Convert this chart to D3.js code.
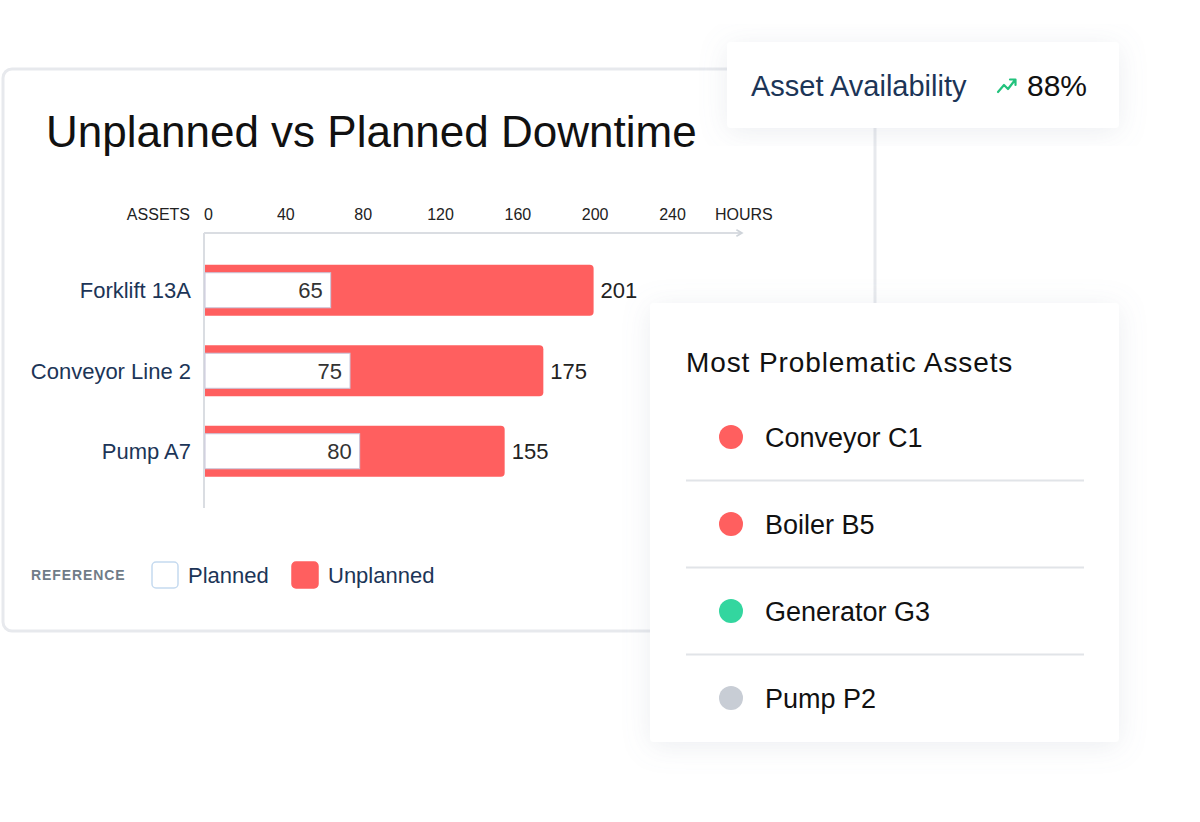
<!DOCTYPE html>
<html lang="en">
<head>
<title>Unplanned vs Planned Downtime</title>
<meta charset="utf-8">
<script src="https://cdnjs.cloudflare.com/ajax/libs/d3/7.8.5/d3.min.js"></script>
<style>
body { margin: 0; background: #fff; }
svg { display: block; font-family: "Liberation Sans", Arial, sans-serif; }
</style>
</head>
<body>
<div id="chart"></div>
<script>

// chart values
var assets = ["Forklift 13A", "Conveyor Line 2", "Pump A7"]
var planned = [65, 75, 80]
var unplanned = [201, 175, 155]
var hourTicks = [0, 40, 80, 120, 160, 200, 240]

var availability = 88

var problemAssets = ["Conveyor C1", "Boiler B5", "Generator G3", "Pump P2"]
var problemStatus = ["bad", "bad", "good", "idle"]

var statusColor = { bad: "#ff5f5f", good: "#33d69f", idle: "#c8cdd5" }
var navy = "#1c3557"
var red = "#ff5f5f"

var rows = assets.map(function(a, i) {
    return { asset: a, planned: planned[i], unplanned: unplanned[i] }
})

var svg = d3.select("#chart").append("svg")
    .attr("width", 1200)
    .attr("height", 822)

var defs = svg.append("defs")
var shadow = defs.append("filter")
    .attr("id", "shadow")
    .attr("x", "-20%").attr("y", "-20%")
    .attr("width", "140%").attr("height", "140%")
shadow.append("feDropShadow")
    .attr("dx", 0).attr("dy", 4)
    .attr("stdDeviation", 14)
    .attr("flood-color", "#8a94a6")
    .attr("flood-opacity", 0.16)

defs.append("marker")
    .attr("id", "arrow")
    .attr("viewBox", "0 0 10 10")
    .attr("refX", 8).attr("refY", 5)
    .attr("markerWidth", 4).attr("markerHeight", 4)
    .attr("orient", "auto")
  .append("path")
    .attr("d", "M1,1 L8,5 L1,9")
    .attr("fill", "none")
    .attr("stroke", "#cfd4da")
    .attr("stroke-width", 2)

// main card
svg.append("rect")
    .attr("x", 3).attr("y", 69)
    .attr("width", 872).attr("height", 562)
    .attr("rx", 9)
    .attr("fill", "#fff")
    .attr("stroke", "#e7e9ed")
    .attr("stroke-width", 3)

svg.append("text")
    .attr("x", 46).attr("y", 147)
    .attr("font-size", 44)
    .attr("fill", "#111")
    .text("Unplanned vs Planned Downtime")

// scales
var x = d3.scaleLinear().domain([0, 240]).range([205, 669])
var y = d3.scaleBand()
    .domain(assets)
    .range([250, 491.5])
    .paddingInner(0.366)
    .paddingOuter(0.183)

var axisY = 233

var xAxis = svg.append("g")
    .attr("transform", "translate(0," + (axisY - 13) + ")")
    .call(d3.axisTop(x).tickValues(hourTicks).tickSize(0).tickPadding(0))
xAxis.select(".domain").remove()
xAxis.selectAll("text")
    .attr("font-family", "Liberation Sans, Arial, sans-serif")
    .attr("font-size", 16)
    .attr("fill", "#222")
    .attr("dy", 0)
    .attr("dx", 3)

svg.append("text")
    .attr("x", 190).attr("y", axisY - 13)
    .attr("text-anchor", "end")
    .attr("font-size", 16)
    .attr("fill", "#222")
    .text("ASSETS")

svg.append("text")
    .attr("x", 715).attr("y", axisY - 13)
    .attr("font-size", 16)
    .attr("fill", "#222")
    .text("HOURS")

svg.append("line")
    .attr("x1", x(0) - 1).attr("x2", 742)
    .attr("y1", axisY).attr("y2", axisY)
    .attr("stroke", "#dadde2")
    .attr("stroke-width", 2)
    .attr("marker-end", "url(#arrow)")

svg.append("line")
    .attr("x1", x(0) - 1).attr("x2", x(0) - 1)
    .attr("y1", axisY).attr("y2", 508)
    .attr("stroke", "#dadde2")
    .attr("stroke-width", 2)

// bars
function rightRounded(x0, y0, w, h, r) {
    return "M" + x0 + "," + y0 +
        "H" + (x0 + w - r) +
        "Q" + (x0 + w) + "," + y0 + " " + (x0 + w) + "," + (y0 + r) +
        "V" + (y0 + h - r) +
        "Q" + (x0 + w) + "," + (y0 + h) + " " + (x0 + w - r) + "," + (y0 + h) +
        "H" + x0 + "Z"
}

var bar = svg.selectAll(".bar")
    .data(rows)
    .enter().append("g")
    .attr("class", "bar")

bar.append("path")
    .attr("fill", red)
    .attr("d", function(d) {
        return rightRounded(x(0), y(d.asset), x(d.unplanned) - x(0), y.bandwidth(), 4)
    })

var inset = 8
bar.append("rect")
    .attr("x", x(0))
    .attr("y", function(d) { return y(d.asset) + inset })
    .attr("width", function(d) { return x(d.planned) - x(0) })
    .attr("height", y.bandwidth() - 2 * inset)
    .attr("fill", "#fff")
    .attr("stroke", "#c8c6da")
    .attr("stroke-width", 1)

bar.append("text")
    .attr("x", function(d) { return x(d.planned) - 8 })
    .attr("y", function(d) { return y(d.asset) + y.bandwidth() / 2 })
    .attr("dy", "0.36em")
    .attr("text-anchor", "end")
    .attr("font-size", 22)
    .attr("fill", "#333")
    .text(function(d) { return d.planned })

bar.append("text")
    .attr("x", function(d) { return x(d.unplanned) + 7 })
    .attr("y", function(d) { return y(d.asset) + y.bandwidth() / 2 })
    .attr("dy", "0.36em")
    .attr("font-size", 22)
    .attr("fill", "#222")
    .text(function(d) { return d.unplanned })

bar.append("text")
    .attr("x", 191)
    .attr("y", function(d) { return y(d.asset) + y.bandwidth() / 2 })
    .attr("dy", "0.36em")
    .attr("text-anchor", "end")
    .attr("font-size", 22)
    .attr("fill", navy)
    .text(function(d) { return d.asset })

// legend
var legendY = 575
svg.append("text")
    .attr("x", 31).attr("y", legendY)
    .attr("dy", "0.36em")
    .attr("font-size", 14)
    .attr("font-weight", "bold")
    .attr("letter-spacing", 0.9)
    .attr("fill", "#707c88")
    .text("REFERENCE")

var legendItems = [
    { label: "Planned", x: 152, fill: "#fff", stroke: "#c5daef" },
    { label: "Unplanned", x: 292, fill: red, stroke: red }
]
var legend = svg.selectAll(".legend")
    .data(legendItems)
    .enter().append("g")
    .attr("class", "legend")
legend.append("rect")
    .attr("x", function(d) { return d.x })
    .attr("y", legendY - 13)
    .attr("width", 26).attr("height", 26)
    .attr("rx", 4)
    .attr("fill", function(d) { return d.fill })
    .attr("stroke", function(d) { return d.stroke })
    .attr("stroke-width", 1.5)
legend.append("text")
    .attr("x", function(d) { return d.x + 36 })
    .attr("y", legendY)
    .attr("dy", "0.36em")
    .attr("font-size", 22)
    .attr("fill", navy)
    .text(function(d) { return d.label })

// availability card
svg.append("rect")
    .attr("x", 727).attr("y", 42)
    .attr("width", 392).attr("height", 86)
    .attr("rx", 4)
    .attr("fill", "#fff")
    .attr("filter", "url(#shadow)")

svg.append("text")
    .attr("x", 751).attr("y", 96)
    .attr("font-size", 29)
    .attr("fill", navy)
    .text("Asset Availability")

svg.append("path")
    .attr("d", "M998,92 L1004,85 L1008,89 L1015,80 M1010,79.5 L1015.5,79.5 L1015.5,85")
    .attr("fill", "none")
    .attr("stroke", "#22c27c")
    .attr("stroke-width", 2.2)
    .attr("stroke-linecap", "round")
    .attr("stroke-linejoin", "round")

svg.append("text")
    .attr("x", 1027).attr("y", 96)
    .attr("font-size", 30)
    .attr("fill", "#111")
    .text(availability + "%")

// problematic assets card
svg.append("rect")
    .attr("x", 650).attr("y", 303)
    .attr("width", 469).attr("height", 439)
    .attr("rx", 4)
    .attr("fill", "#fff")
    .attr("filter", "url(#shadow)")

svg.append("text")
    .attr("x", 686).attr("y", 372)
    .attr("font-size", 28)
    .attr("letter-spacing", 0.9)
    .attr("fill", "#111")
    .text("Most Problematic Assets")

var list = d3.scalePoint()
    .domain(problemAssets)
    .range([437, 698])

var item = svg.selectAll(".item")
    .data(problemAssets)
    .enter().append("g")
    .attr("class", "item")

item.append("circle")
    .attr("cx", 731)
    .attr("cy", function(d) { return list(d) })
    .attr("r", 12)
    .attr("fill", function(d, i) { return statusColor[problemStatus[i]] })

item.append("text")
    .attr("x", 765)
    .attr("y", function(d) { return list(d) })
    .attr("dy", "0.36em")
    .attr("font-size", 27)
    .attr("fill", "#111")
    .text(function(d) { return d })

item.filter(function(d, i) { return i < problemAssets.length - 1 })
  .append("line")
    .attr("x1", 686).attr("x2", 1084)
    .attr("y1", function(d) { return list(d) + list.step() / 2 })
    .attr("y2", function(d) { return list(d) + list.step() / 2 })
    .attr("stroke", "#e1e4e8")
    .attr("stroke-width", 2)

</script>
</body>
</html>
